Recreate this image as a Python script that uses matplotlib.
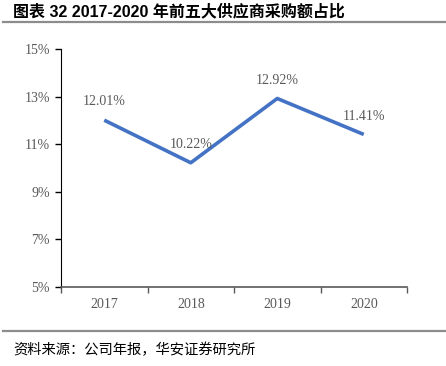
import matplotlib.pyplot as plt
from matplotlib.lines import Line2D

years = ["2017", "2018", "2019", "2020"]
share = [12.01, 10.22, 12.92, 11.41]
yticks = [5, 7, 9, 11, 13, 15]

title = "图表 32 2017-2020 年前五大供应商采购额占比"
source = "资料来源：公司年报，华安证券研究所"

cjk = ["Noto Sans CJK SC", "DejaVu Sans"]
serif = "Liberation Serif"
grey = "#595959"

fig = plt.figure(figsize=(4.46, 3.66), dpi=100)
ax = fig.add_axes([61 / 446, 1 - 287 / 366, 346 / 446, 238 / 366])

x = list(range(len(years)))
ax.plot(x, share, color="#4472C4", linewidth=2.6, solid_capstyle="butt")
for xi, v in zip(x, share):
    ax.annotate(f"{v:.2f}%", (xi, v), xytext=(0, 8.5), textcoords="offset points",
                ha="center", va="bottom", fontsize=10, family=serif, color=grey)

ax.set_xlim(-0.5, len(years) - 0.5)
ax.set_ylim(5, 15)
ax.set_yticks(yticks)
ax.set_yticklabels([f"{t}%" for t in yticks], family=serif, fontsize=10, color=grey)
ax.set_xticks([i - 0.5 for i in range(len(years) + 1)])
ax.set_xticklabels([])
ax.set_xticks(x, minor=True)
ax.set_xticklabels(years, minor=True, family=serif, fontsize=10, color=grey)
ax.tick_params(axis="x", which="major", length=4, width=1, color=grey)
ax.tick_params(axis="x", which="minor", length=0, pad=8)
ax.tick_params(axis="y", length=4, width=1, color="black", pad=4)

for s in ["top", "right"]:
    ax.spines[s].set_visible(False)
ax.spines["left"].set_color("black")
ax.spines["bottom"].set_color(grey)
ax.spines["bottom"].set_linewidth(1.2)

fig.text(13 / 446, 1 - 12 / 366, title, family=["Liberation Sans", "Noto Sans CJK SC"],
         fontweight="bold", fontsize=11.5, va="center", ha="left", color="black")
fig.add_artist(Line2D([3 / 446, 1], [1 - 22 / 366] * 2, color="#8c8c8c", linewidth=1.6))
fig.add_artist(Line2D([3 / 446, 1], [1 - 331 / 366] * 2, color="#8c8c8c", linewidth=1.6))
fig.text(13 / 446, 1 - 350 / 366, source, family=cjk, fontsize=10.3,
         va="center", ha="left", color="black")

fig.savefig("out.png", dpi=100)
